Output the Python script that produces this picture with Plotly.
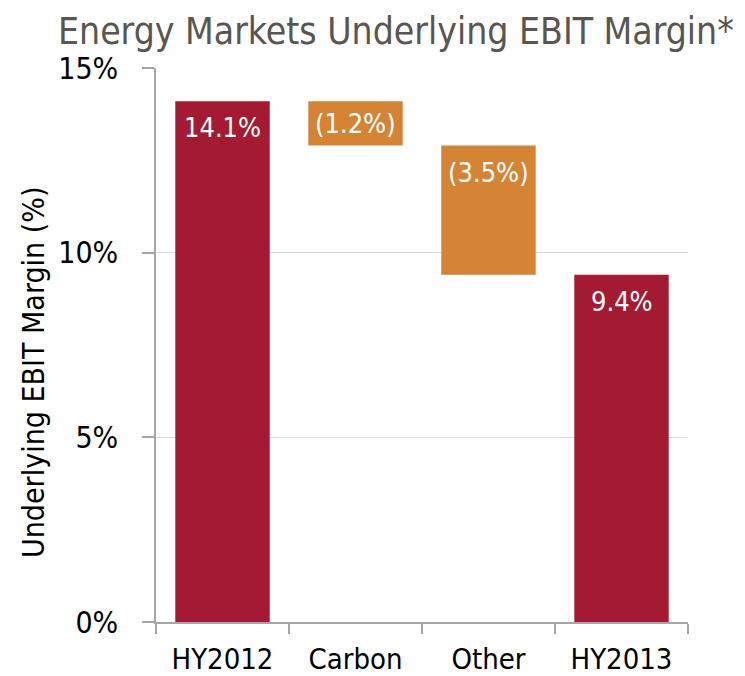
import plotly.graph_objects as go

categories = ["HY2012", "Carbon", "Other", "HY2013"]
values = [14.1, -1.2, -3.5, 9.4]
kinds = ["total", "delta", "delta", "total"]
colors_map = {"total": "#A51A33", "delta": "#D48434"}
y_tickvals = [0, 5, 10, 15]
y_ticktext = ["0%", "5%", "10%", "15%"]

bases, heights, texts, colors = [], [], [], []
running = 0.0
for v, k in zip(values, kinds):
    if k == "total":
        bases.append(0)
        heights.append(v)
        running = v
        texts.append(f"{v:.1f}%")
    else:
        new = running + v
        bases.append(min(running, new))
        heights.append(abs(v))
        running = new
        texts.append(f"({abs(v):.1f}%)")
    colors.append(colors_map[k])

FONT = "DejaVu Sans Condensed, Liberation Sans Narrow, sans-serif"

fig = go.Figure(go.Bar(
    x=categories, y=heights, base=bases,
    marker=dict(color=colors, line=dict(width=0)),
    width=0.71,
    hoverinfo="skip",
))

# page is offset by 8px body margin; layout numbers below are in figure coords
L, T, B, R = 148, 60, 62, 65
PW, PH = 745 - L - R, 676 - T - B

label_annos = []
for c, b, h, t in zip(categories, bases, heights, texts):
    top = b + h
    label_annos.append(dict(
        x=c, y=top - min(h / 2, 0.72), xref="x", yref="y",
        text=t, showarrow=False, xanchor="center", yanchor="middle",
        font=dict(color="white", size=27, family=FONT),
    ))

fig.update_layout(
    width=745, height=676,
    margin=dict(l=L, r=R, t=T, b=B),
    paper_bgcolor="white", plot_bgcolor="white",
    showlegend=False,
    font=dict(family=FONT, color="black"),
    annotations=label_annos + [
        dict(text="Energy Markets Underlying EBIT Margin*", xref="paper", yref="paper",
             x=(388 - L) / PW, y=(T + PH) / PH, xanchor="center", yanchor="top",
             showarrow=False, font=dict(family=FONT, size=37, color="#595550")),
        dict(text="Underlying EBIT Margin (%)", xref="paper", yref="paper",
             x=(25 - L) / PW, y=(T + PH - 365) / PH, xanchor="center", yanchor="middle",
             textangle=-90, showarrow=False,
             font=dict(family=FONT, size=30, color="black")),
    ],
)
fig.update_xaxes(
    showline=True, linecolor="#a6a6a6", linewidth=1.5,
    ticks="outside", tickson="boundaries", ticklen=10, tickcolor="#a6a6a6", tickwidth=1.5,
    tickfont=dict(size=29, family=FONT, color="black"),
    ticklabelstandoff=10,
    showgrid=False, automargin=False,
)
fig.update_yaxes(
    range=[0, 15], tickvals=y_tickvals, ticktext=y_ticktext,
    showline=True, linecolor="#a6a6a6", linewidth=1.5,
    ticks="outside", ticklen=12, tickcolor="#a6a6a6", tickwidth=1.5,
    ticklabelstandoff=18,
    gridcolor="#d9d9d9", gridwidth=1,
    tickfont=dict(size=30, family=FONT, color="black"),
    zeroline=False, automargin=False,
)
fig.write_html("out.html")
